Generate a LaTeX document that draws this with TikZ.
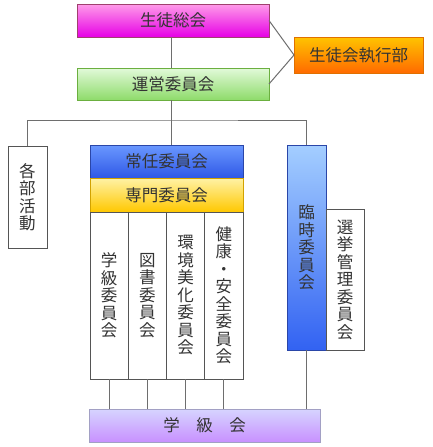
\documentclass[tikz,border=0pt]{standalone}
\usepackage{fontspec}
\setmainfont{Noto Sans CJK JP}
\definecolor{ink}{HTML}{333333}
\definecolor{wire}{HTML}{6E6E6E}
\definecolor{frame}{HTML}{555555}
\definecolor{pinktop}{HTML}{FF9CE8}
\definecolor{pinkbot}{HTML}{E600E6}
\definecolor{pinkline}{HTML}{A0406E}
\definecolor{greentop}{HTML}{E2FADA}
\definecolor{greenbot}{HTML}{8EDB6A}
\definecolor{greenline}{HTML}{6BAF3F}
\definecolor{orangetop}{HTML}{FFC400}
\definecolor{orangebot}{HTML}{FF6A00}
\definecolor{orangeline}{HTML}{E07000}
\definecolor{bluetop}{HTML}{6A98FF}
\definecolor{bluebot}{HTML}{2F58E6}
\definecolor{blueline}{HTML}{2A46A8}
\definecolor{skytop}{HTML}{A4CEFF}
\definecolor{skybot}{HTML}{3262F2}
\definecolor{yellowtop}{HTML}{FFF2A6}
\definecolor{yellowbot}{HTML}{FFC800}
\definecolor{yellowline}{HTML}{D2A200}
\definecolor{lilactop}{HTML}{D6D4FF}
\definecolor{lilacbot}{HTML}{C891FF}
\definecolor{lilacline}{HTML}{A2A0C4}

\begin{document}
\begin{tikzpicture}[x=1pt,y=-1pt,
  box/.style={draw=frame,line width=0.8pt,inner sep=0pt,outer sep=0pt,
    anchor=north west,text=ink,align=center,
    font=\fontsize{16.5}{17.5}\selectfont},
  link/.style={draw=wire,line width=1pt}]
  \useasboundingbox (0,0) rectangle (433,447);

  % top row
  \node[box,draw=pinkline,top color=pinktop,bottom color=pinkbot,
        minimum width=192,minimum height=33] (soukai) at (77,4) {生徒総会};
  \node[box,draw=greenline,top color=greentop,bottom color=greenbot,
        minimum width=192,minimum height=32] (unei) at (77,68) {運営委員会};
  \node[box,draw=orangeline,top color=orangetop,bottom color=orangebot,
        minimum width=129,minimum height=36] (shikkou) at (294,37) {生徒会執行部};

  % middle
  \node[box,minimum width=39,minimum height=102] (kakubu) at (8,146)
    {各\\部\\活\\動};
  \node[box,draw=blueline,top color=bluetop,bottom color=bluebot,
        minimum width=153,minimum height=33] (jounin) at (90,145) {常任委員会};
  \node[box,draw=yellowline,top color=yellowtop,bottom color=yellowbot,
        minimum width=153,minimum height=34] (senmon) at (90,178) {専門委員会};

  \node[box,minimum width=38.25,minimum height=167] (gakkyuu) at (90,212)
    {学\\級\\委\\員\\会};
  \node[box,minimum width=38.25,minimum height=167] (tosho) at (128.25,212)
    {図\\書\\委\\員\\会};
  \node[box,minimum width=38.25,minimum height=167] (kankyou) at (166.5,212)
    {環\\境\\美\\化\\委\\員\\会};
  \node[box,minimum width=38.25,minimum height=167] (kenkou) at (204.75,212)
    {健\\康\\・\\安\\全\\委\\員\\会};

  \node[box,draw=blueline,top color=skytop,bottom color=skybot,
        minimum width=39,minimum height=205] (rinji) at (287,145)
    {臨\\時\\委\\員\\会};
  \node[box,minimum width=38,minimum height=141] (senkyo) at (326,209)
    {選\\挙\\管\\理\\委\\員\\会};

  % bottom
  \node[box,draw=lilacline,top color=lilactop,bottom color=lilacbot,
        minimum width=231,minimum height=33] (gakkyuukai) at (89,409)
    {学　級　会};

  % connectors
  \coordinate (bar) at (171,120);
  \draw[link] (soukai.south -| bar) -- (unei.north -| bar);
  \draw[link] (soukai.east) -- (shikkou.west);
  \draw[link] (unei.east) -- (shikkou.west);
  \draw[link] (unei.south -| bar) -- (jounin.north -| bar);
  \draw[link] (kakubu.north) |- (bar) -| (rinji.north);
  \foreach \c in {gakkyuu,tosho,kankyou,kenkou,rinji}
    \draw[link] (\c.south) -- (\c.south |- gakkyuukai.north);
\end{tikzpicture}
\end{document}
